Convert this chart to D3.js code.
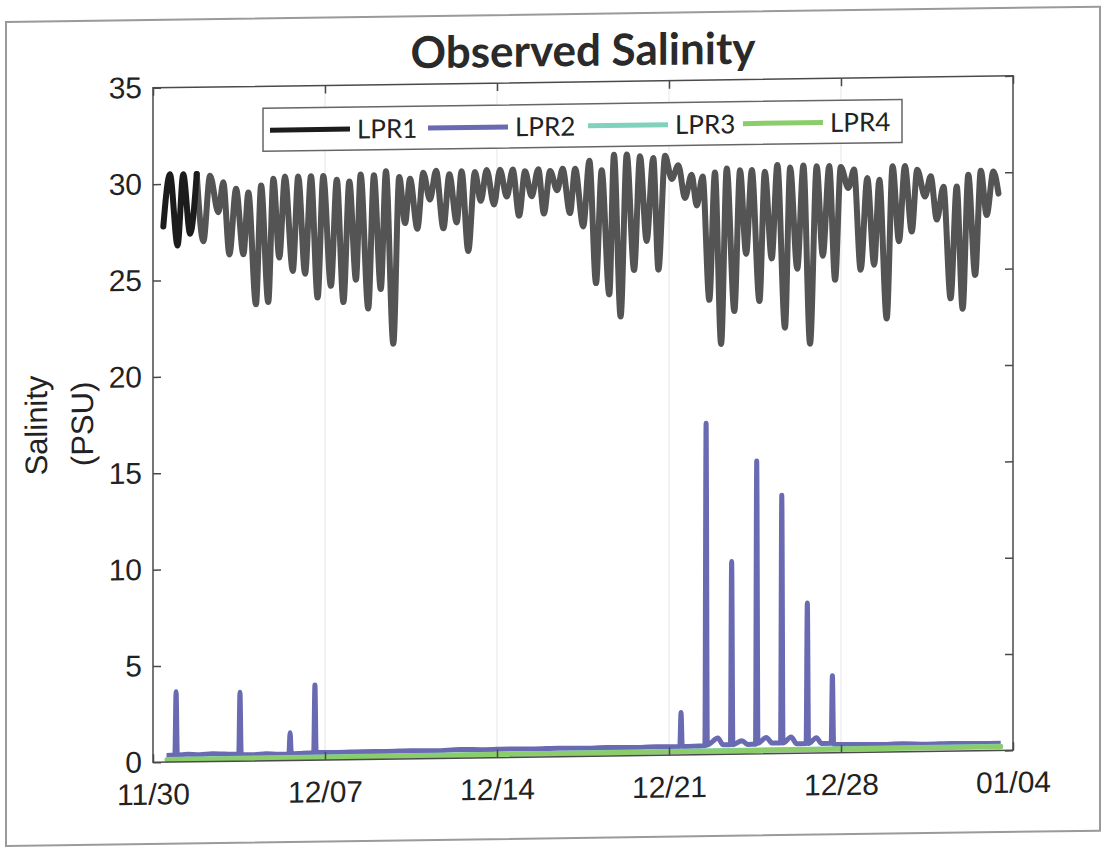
<!DOCTYPE html>
<meta charset="utf-8">
<style>
body { margin: 0; background: #fff; }
text { font-family: "Liberation Sans", Arial, sans-serif; fill: #222; }
.title { font-family: Lato, sans-serif; font-weight: bold; font-size: 44px; fill: #2a2a2a; }
.legend text { font-family: Lato, sans-serif; font-size: 26px; fill: #222; }
</style>

<svg width="1106" height="848"></svg>

<script src="https://d3js.org/d3.v7.min.js"></script>
<script>
// Observed salinity at four stations, 11/30 - 01/04
var seriesNames = ["LPR1", "LPR2", "LPR3", "LPR4"];
var seriesColors = ["#1c1c1c", "#6a6ab2", "#80d2bc", "#8bcd6a"];
var lpr1Gray = "#545454";   // the scanned LPR1 trace turns gray after the first day

var xTickLabels = ["11/30", "12/07", "12/14", "12/21", "12/28", "01/04"];
var yTicks = [0, 5, 10, 15, 20, 25, 30, 35];

// [days after 11/30 00:00, salinity] read at each tidal high and low
var lpr1 = [
  [0.42,27.8],[0.69,30.5],[1.00,26.8],[1.23,30.5],[1.51,27.4],[1.78,30.5],
  [2.05,27.0],[2.32,30.4],[2.66,28.5],[2.86,30.05],[3.11,26.3],[3.38,29.7],
  [3.68,26.3],[3.88,29.5],[4.19,23.7],[4.40,29.85],[4.69,23.8],[4.90,30.2],
  [5.14,26.1],[5.37,30.3],[5.69,25.4],[5.91,30.3],[6.19,25.25],[6.43,30.3],
  [6.70,24.0],[6.93,30.3],[7.24,24.6],[7.48,30.1],[7.75,23.75],[7.99,30.0],
  [8.26,24.9],[8.45,30.35],[8.76,23.4],[8.99,30.3],[9.27,24.4],[9.48,30.5],
  [9.78,21.55],[10.02,30.2],[10.26,27.8],[10.46,30.1],[10.76,27.5],[11.0,30.4],
  [11.27,29.0],[11.52,30.5],[11.82,27.5],[12.06,30.3],[12.36,27.8],[12.56,30.45],
  [12.83,26.3],[13.1,30.4],[13.34,28.9],[13.58,30.5],[13.88,28.7],[14.12,30.5],
  [14.4,29.1],[14.64,30.5],[14.9,28.1],[15.14,30.4],[15.41,29.1],[15.68,30.5],
  [15.91,28.2],[16.16,30.4],[16.45,29.4],[16.67,30.5],[16.97,28.2],[17.18,30.5],
  [17.51,27.5],[17.76,30.9],[18.03,24.55],[18.26,30.4],[18.57,23.95],[18.76,31.2],
  [19.03,22.8],[19.28,31.2],[19.58,25.2],[19.82,31.1],[20.09,26.7],[20.36,31.0],
  [20.57,25.2],[20.84,31.1],[21.11,29.9],[21.38,30.6],[21.65,28.9],[21.92,30.1],
  [22.13,28.5],[22.37,30.0],[22.64,23.6],[22.87,30.2],[23.12,21.3],[23.35,30.4],
  [23.66,23.0],[23.89,30.3],[24.14,25.95],[24.37,30.3],[24.68,23.5],[24.9,30.2],
  [25.18,25.7],[25.41,30.55],[25.72,22.1],[25.93,30.4],[26.22,25.15],[26.47,30.5],
  [26.74,21.25],[27.01,30.45],[27.26,25.8],[27.52,30.45],[27.76,24.55],[27.99,30.4],
  [28.3,29.3],[28.53,30.25],[28.8,25.05],[29.07,29.8],[29.35,25.3],[29.56,29.7],
  [29.86,22.5],[30.1,30.4],[30.36,26.5],[30.6,30.4],[30.88,27.0],[31.1,30.2],
  [31.42,28.8],[31.65,29.85],[31.9,27.6],[32.17,29.3],[32.46,23.5],[32.71,29.3],
  [32.95,22.95],[33.18,29.9],[33.46,24.7],[33.69,30.1],[33.93,27.8],[34.2,30.05],
  [34.41,28.9]
];
var lpr1BlackPoints = 6;   // first day and a half drawn in black

var lpr2 = [
  [0.55,0.35],[0.89,0.36],[0.94,3.65],[0.99,0.36],[1.4,0.4],[1.9,0.36],[2.4,0.4],
  [2.9,0.38],[3.49,0.36],[3.54,3.57],[3.59,0.35],[4.1,0.32],[4.6,0.36],[5.1,0.33],
  [5.53,0.34],[5.58,1.44],[5.63,0.34],[6.1,0.37],[6.54,0.38],[6.59,3.9],[6.64,0.4],
  [7.5,0.38],[8.5,0.4],[9.5,0.4],[10.5,0.42],[11.5,0.4],[12.5,0.44],[13.5,0.42],
  [14.5,0.44],[15.5,0.42],[16.5,0.44],[17.5,0.42],[18.5,0.44],[19.5,0.42],[20.5,0.44],
  [21.44,0.44],[21.49,2.2],[21.54,0.44],[22.0,0.44],[22.46,0.46],[22.51,17.2],[22.56,0.5],
  [22.99,0.85],[23.2,0.5],[23.5,0.5],[23.55,10.0],[23.6,0.5],[23.97,0.7],[24.2,0.5],
  [24.52,0.5],[24.57,15.2],[24.62,0.55],[24.96,0.85],[25.2,0.55],[25.54,0.55],[25.59,13.4],
  [25.64,0.55],[25.97,0.85],[26.2,0.5],[26.58,0.5],[26.63,7.8],[26.68,0.5],[27.0,0.8],
  [27.2,0.5],[27.6,0.5],[27.65,4.0],[27.7,0.45],[28.5,0.42],[29.5,0.4],[30.5,0.42],
  [31.5,0.38],[32.5,0.4],[33.5,0.38],[34.5,0.38]
];

var lpr3 = [[0.57,0.14],[8,0.16],[16,0.18],[24,0.2],[34.5,0.22]];

var lpr4 = [[0.57,0.12],[8,0.14],[16,0.16],[24,0.18],[34.5,0.2]];

var svg = d3.select("svg");

// the scanned page is slightly sheared; reproduce it on the whole drawing
var root = svg.append("g").attr("transform", "skewY(-0.8)");

var start = new Date(2019, 10, 30);
var xTickDates = xTickLabels.map(function(s) {
  var p = s.split("/");
  return new Date(p[0] === "01" ? 2020 : 2019, +p[0] - 1, +p[1]);
});

var x = d3.scaleTime()
    .domain([xTickDates[0], xTickDates[xTickDates.length - 1]])
    .range([153, 1013]);
var y = d3.scaleLinear().domain([0, 35]).range([764.5, 90]);

function dayToDate(d) { return new Date(start.getTime() + d * 864e5); }

var line = d3.line()
    .x(function(d) { return x(dayToDate(d[0])); })
    .y(function(d) { return y(d[1]); })
    .curve(d3.curveMonotoneX);

// outer figure frame from the scan
root.append("rect")
    .attr("x", 6).attr("y", 22).attr("width", 1094).attr("height", 824)
    .attr("fill", "none").attr("stroke", "#9a9a9a").attr("stroke-width", 2);

// faint vertical grid at the week ticks
root.append("g").selectAll("line")
    .data(xTickDates.slice(1, -1))
  .enter().append("line")
    .attr("x1", function(d) { return x(d); }).attr("x2", function(d) { return x(d); })
    .attr("y1", y(35)).attr("y2", y(0))
    .attr("stroke", "#e9e9e9").attr("stroke-width", 1.2);

// series
var lines = root.append("g").attr("fill", "none")
    .attr("stroke-linejoin", "round").attr("stroke-linecap", "round");

lines.append("path").datum(lpr1.slice(lpr1BlackPoints - 1))
    .attr("d", line).attr("stroke", lpr1Gray).attr("stroke-width", 6);
lines.append("path").datum(lpr1.slice(0, lpr1BlackPoints))
    .attr("d", line).attr("stroke", seriesColors[0]).attr("stroke-width", 6);
lines.append("path").datum(lpr2)
    .attr("d", line).attr("stroke", seriesColors[1]).attr("stroke-width", 5)
    .attr("stroke-linecap", "butt").attr("stroke-linejoin", "miter");
lines.append("path").datum(lpr3)
    .attr("d", line).attr("stroke", seriesColors[2]).attr("stroke-width", 5);
lines.append("path").datum(lpr4)
    .attr("d", line).attr("stroke", seriesColors[3]).attr("stroke-width", 5);

// axes, ticks pointing inward on all four sides
var axisColor = "#4a4a4a";
function styleAxis(g) {
  g.select(".domain").remove();
  g.selectAll(".tick line").attr("stroke", axisColor).attr("stroke-width", 1.5);
  g.selectAll(".tick text").style("font-size", "30px").attr("fill", "#222");
}

root.append("g").attr("transform", "translate(153,0)")
    .call(d3.axisLeft(y).tickValues(yTicks).tickSize(-8).tickPadding(11))
    .call(styleAxis);
root.append("g").attr("transform", "translate(1013,0)")
    .call(d3.axisRight(y).tickValues(yTicks).tickSize(-8).tickFormat(""))
    .call(styleAxis);
root.append("g").attr("transform", "translate(0," + y(0) + ")")
    .call(d3.axisBottom(x).tickValues(xTickDates)
      .tickFormat(function(d, i) { return xTickLabels[i]; })
      .tickSize(-8).tickPadding(21))
    .call(styleAxis);
root.append("g").attr("transform", "translate(0," + y(35) + ")")
    .call(d3.axisTop(x).tickValues(xTickDates).tickSize(-8).tickFormat(""))
    .call(styleAxis);

root.append("rect")
    .attr("x", 153).attr("y", y(35))
    .attr("width", 1013 - 153).attr("height", y(0) - y(35))
    .attr("fill", "none").attr("stroke", axisColor).attr("stroke-width", 1.5);

// titles
root.append("text").attr("class", "title")
    .attr("x", 583).attr("y", 74).attr("text-anchor", "middle")
    .text("Observed Salinity");

root.append("text")
    .attr("transform", "translate(47,426) rotate(-90)")
    .attr("text-anchor", "middle").style("font-size", "31px")
    .text("Salinity");
root.append("text")
    .attr("transform", "translate(93,425) rotate(-90)")
    .attr("text-anchor", "middle").style("font-size", "31px")
    .text("(PSU)");

// legend
var legendX = [270, 428, 588, 743];
var legend = root.append("g").attr("class", "legend");
legend.append("rect")
    .attr("x", 263).attr("y", 112).attr("width", 639).attr("height", 43)
    .attr("fill", "#fff").attr("stroke", "#666").attr("stroke-width", 1.5);

var item = legend.selectAll("g.item")
    .data(seriesNames)
  .enter().append("g").attr("class", "item")
    .attr("transform", function(d, i) { return "translate(" + legendX[i] + ",0)"; });
item.append("line")
    .attr("x1", 0).attr("x2", 80).attr("y1", 134).attr("y2", 134)
    .attr("stroke", function(d, i) { return seriesColors[i]; })
    .attr("stroke-width", 5);
item.append("text")
    .attr("x", 87).attr("y", 143.5)
    .text(function(d) { return d; });
</script>
